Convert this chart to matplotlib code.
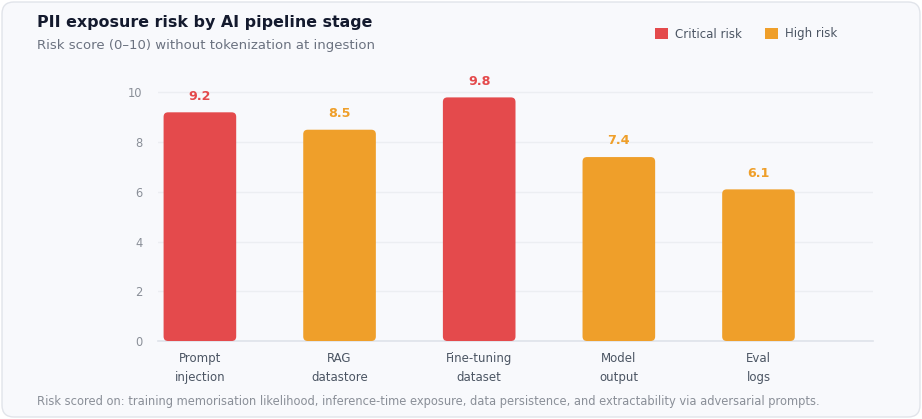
import matplotlib
matplotlib.use("Agg")
import matplotlib.pyplot as plt
from matplotlib.patches import FancyBboxPatch, Patch

plt.rcParams["font.family"] = ["DejaVu Sans"]

categories = ["Prompt\ninjection", "RAG\ndatastore", "Fine-tuning\ndataset", "Model\noutput", "Eval\nlogs"]
scores = [9.2, 8.5, 9.8, 7.4, 6.1]
levels = ["Critical", "High", "Critical", "High", "High"]
yticks = [0, 2, 4, 6, 8, 10]

RED = "#e44a4c"
ORANGE = "#ef9f2a"
colors = {"Critical": RED, "High": ORANGE}

W, H = 922, 419
fig = plt.figure(figsize=(W / 100, H / 100), dpi=100)
fig.patch.set_facecolor("white")

card = FancyBboxPatch((2 / W, 2 / H), (W - 4) / W, (H - 4) / H,
                      boxstyle="round,pad=0,rounding_size=0.013",
                      transform=fig.transFigure, facecolor="#f8f9fc",
                      edgecolor="#e1e4ea", linewidth=1.0, mutation_aspect=W / H,
                      zorder=-5)
fig.patches.append(card)

ax = fig.add_axes([158 / W, 1 - 341 / H, (873 - 158) / W, (341 - 80) / H])
ax.set_zorder(1)
ax.set_facecolor("none")
x = list(range(len(categories)))
bw = 0.52
bars = ax.bar(x, scores, width=bw, color=[colors[l] for l in levels], zorder=3)
ax.set_xlim(-0.3, 4.82)
ax.set_ylim(0, 10.5)

# replace bars with rounded versions
xpp = (4.82 + 0.3) / (873 - 158)
ypp = 10.5 / (341 - 80)
for b in bars:
    b.set_visible(False)
    p = FancyBboxPatch((b.get_x(), b.get_y()), b.get_width(), b.get_height(),
                       boxstyle="round,pad=0,rounding_size=%f" % (4.5 * xpp),
                       mutation_aspect=ypp / xpp,
                       facecolor=b.get_facecolor(), edgecolor="none", zorder=3)
    ax.add_patch(p)

for xi, v, l in zip(x, scores, levels):
    ax.annotate(f"{v:.1f}", (xi, v), xytext=(0, 7), textcoords="offset points",
                ha="center", va="bottom", fontsize=9.2, fontweight="bold",
                color=colors[l])

ax.set_yticks(yticks)
ax.set_yticklabels([str(t) for t in yticks], fontsize=8.3, color="#8a8f98")
ax.set_xticks(x)
ax.set_xticklabels(categories, fontsize=8.5, color="#4b5563", linespacing=1.6)
ax.tick_params(axis="both", length=0)
ax.tick_params(axis="y", pad=11)
ax.tick_params(axis="x", pad=8)
ax.grid(axis="y", color="#eceef2", linewidth=1, zorder=0)
for s in ["top", "right", "left"]:
    ax.spines[s].set_visible(False)
ax.spines["bottom"].set_color("#dfe3ea")
ax.spines["bottom"].set_linewidth(1.2)

fig.text(37 / W, 1 - 23 / H, "PII exposure risk by AI pipeline stage",
         fontsize=11.4, fontweight="bold", color="#141a2e", va="center", ha="left")
fig.text(37 / W, 1 - 45 / H, "Risk score (0\u201310) without tokenization at ingestion",
         fontsize=9.5, color="#6b7280", va="center", ha="left")
fig.text(37 / W, 1 - 401 / H,
         "Risk scored on: training memorisation likelihood, inference-time exposure, data persistence, and extractability via adversarial prompts.",
         fontsize=8.3, color="#8a8f98", va="center", ha="left")

handles = [Patch(facecolor=RED, edgecolor="none", label="Critical risk"),
           Patch(facecolor=ORANGE, edgecolor="none", label="High risk")]
fig.legend(handles=handles, loc="center right", bbox_to_anchor=(843 / W, 1 - 34 / H),
           ncol=2, frameon=False, fontsize=8.5, handlelength=1.1, handleheight=1.1,
           handletextpad=0.6, columnspacing=1.95, labelcolor="#4b5563", borderpad=0)

fig.savefig("out.png", dpi=100, facecolor="white")
